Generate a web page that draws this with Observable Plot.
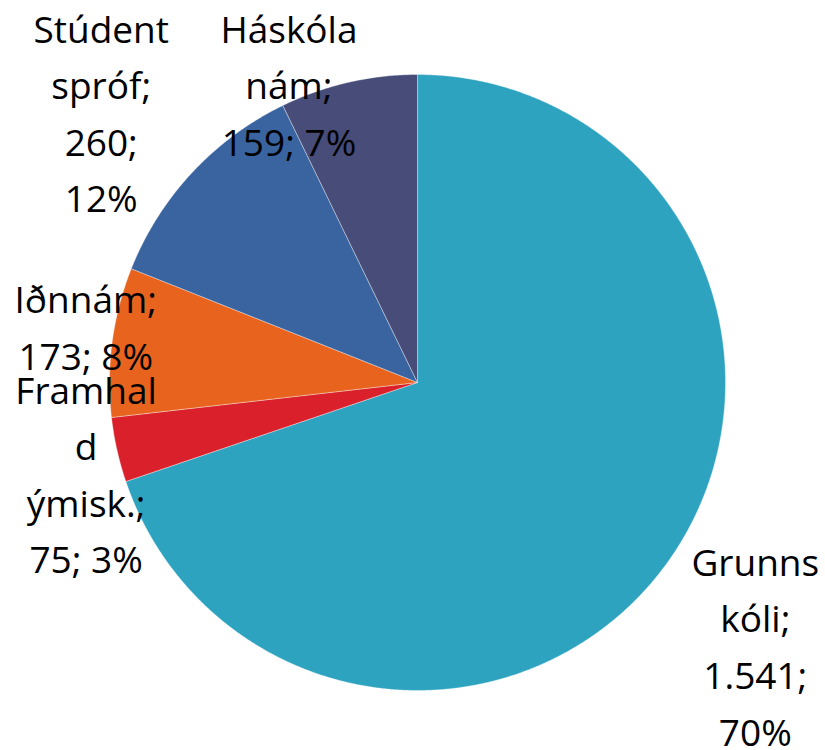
<!DOCTYPE html>
<html>
<head>
<meta charset="utf-8">
<script src="https://cdn.jsdelivr.net/npm/d3@7"></script>
<script src="https://cdn.jsdelivr.net/npm/@observablehq/plot@0.6"></script>
<style>
  html, body { margin: 0; padding: 0; background: #fff; }
  #chart { width: 825px; height: 750px; }
</style>
</head>
<body>
<div id="chart"></div>
<script>
// ---- data ----
const categories = ["Grunnskóli", "Framhald ýmisk.", "Iðnnám", "Stúdentspróf", "Háskólanám"];
const values = [1541, 75, 173, 260, 159];
const colors = ["#2ea3c0", "#d9202b", "#e8641e", "#3a64a0", "#474c79"];
// how Excel wrapped each category name in its label
const nameLines = [["Grunns", "kóli"], ["Framhal", "d", "ýmisk."], ["Iðnnám"], ["Stúdent", "spróf"], ["Háskóla", "nám"]];

// ---- layout ----
const W = 825, H = 750, CX = 417, CY = 382, R = 308;
const labelRadius = [1.40, 1.12, 1.09, 1.34, 1.04];
const labelAngleShift = [2.8, -3.5, 1.2, -2.9, -10.7]; // degrees
const numLocale = d3.formatLocale({decimal: ",", thousands: ".", grouping: [3], currency: ["", ""]});
const fmt = numLocale.format(",d");

const total = d3.sum(values);
const arcs = d3.pie().sort(null).value(d => d)(values);

// build wedge outlines in data units (unit radius)
const wedgePts = [];
arcs.forEach((a, i) => {
  const n = Math.max(2, Math.ceil((a.endAngle - a.startAngle) / 0.005));
  wedgePts.push({cat: categories[i], x: 0, y: 0});
  for (let k = 0; k <= n; k++) {
    const t = a.startAngle + (a.endAngle - a.startAngle) * k / n;
    wedgePts.push({cat: categories[i], x: Math.sin(t), y: -Math.cos(t)});
  }
  wedgePts.push({cat: categories[i], x: 0, y: 0});
});

const labels = arcs.map((a, i) => {
  const mid = (a.startAngle + a.endAngle) / 2 + labelAngleShift[i] * Math.PI / 180;
  const pct = Math.round(values[i] / total * 100) + "%";
  const lines = nameLines[i].slice();
  lines[lines.length - 1] += ";";
  let text;
  if (i === 0 || i === 3) text = [...lines, fmt(values[i]) + ";", pct].join("\n");
  else text = [...lines, fmt(values[i]) + "; " + pct].join("\n");
  return {x: Math.sin(mid) * labelRadius[i], y: -Math.cos(mid) * labelRadius[i], text};
});

const chart = Plot.plot({
  width: W,
  height: H,
  margin: 0,
  x: {domain: [-CX / R, (W - CX) / R], range: [0, W], axis: null},
  y: {domain: [-CY / R, (H - CY) / R], range: [0, H], axis: null},
  color: {domain: categories, range: colors},
  style: {background: "#fff"},
  marks: [
    Plot.line(wedgePts, {x: "x", y: "y", z: "cat", fill: "cat", stroke: "#ffffff", strokeWidth: 0.6, strokeOpacity: 0.6, curve: "linear"}),
    Plot.text(labels, {x: "x", y: "y", text: "text", fontSize: 37, lineHeight: 1.53, dy: -8, fill: "#000", fontFamily: "'Open Sans', sans-serif"})
  ]
});
document.getElementById("chart").appendChild(chart);
</script>
</body>
</html>
